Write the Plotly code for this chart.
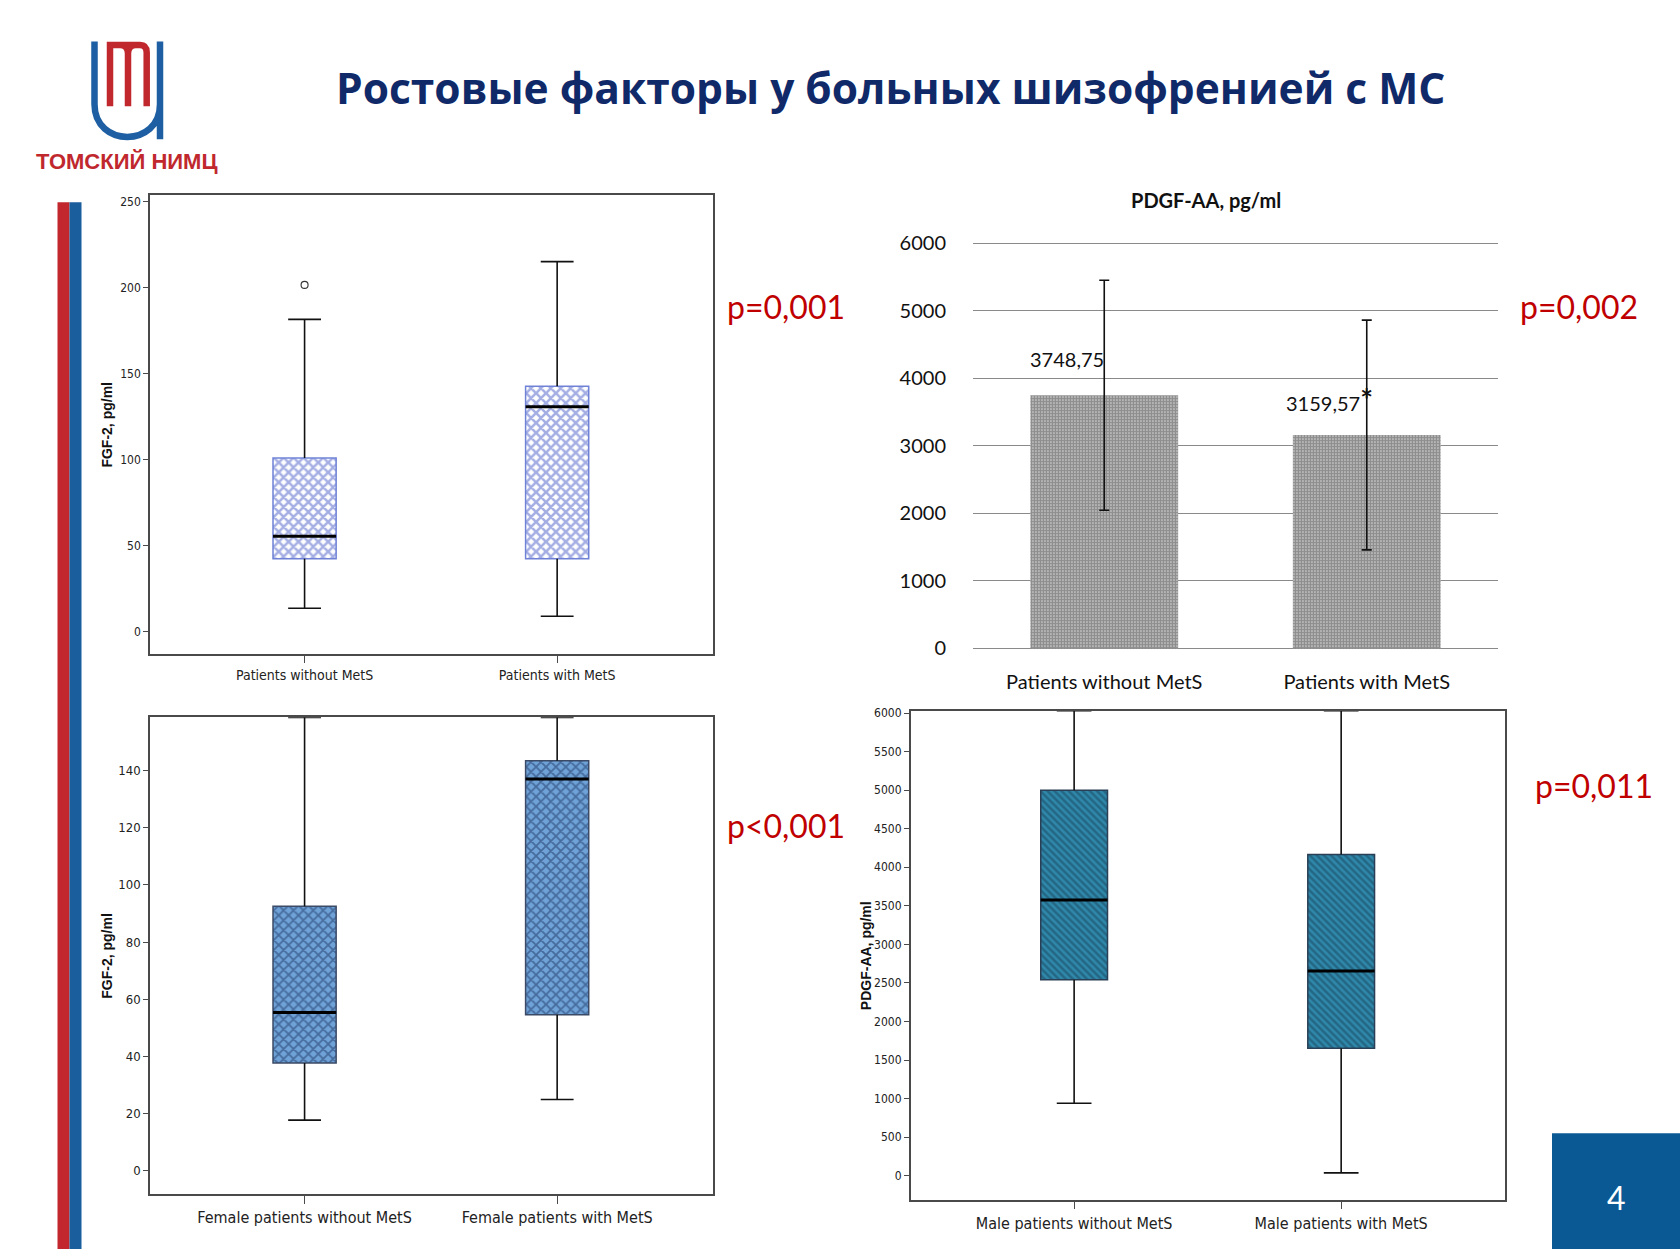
import plotly.graph_objects as go

W, H = 1680, 1260

# ---------------- data ----------------
fgf_groups = ["Patients without MetS", "Patients with MetS"]
fgf_lower = [13.7, 9.1]
fgf_q1 = [42.5, 42.5]
fgf_median = [55.5, 130.8]
fgf_q3 = [101.0, 142.7]
fgf_upper = [181.5, 215.0]
fgf_outlier_group = [0]
fgf_outlier_value = [201.5]
fgf_ticks = [0, 50, 100, 150, 200, 250]

pdgf_groups = ["Patients without MetS", "Patients with MetS"]
pdgf_mean = [3748.75, 3159.57]
pdgf_sd = [1702, 1700]
pdgf_mark = ["", "*"]
pdgf_ticks = [0, 1000, 2000, 3000, 4000, 5000, 6000]

fem_groups = ["Female patients without MetS", "Female patients with MetS"]
fem_lower = [17.7, 24.9]
fem_q1 = [37.7, 54.6]
fem_median = [55.4, 137.0]
fem_q3 = [92.5, 143.4]
fem_upper = [158.6, 158.6]
fem_ticks = [0, 20, 40, 60, 80, 100, 120, 140]

male_groups = ["Male patients without MetS", "Male patients with MetS"]
male_lower = [940, 36]
male_q1 = [2540, 1652]
male_median = [3575, 2655]
male_q3 = [5000, 4165]
male_upper = [6030, 6030]
male_ticks = [0, 500, 1000, 1500, 2000, 2500, 3000, 3500, 4000, 4500, 5000, 5500, 6000]

p_values = ["p=0,001", "p=0,002", "p<0,001", "p=0,011"]

title_text = "Ростовые факторы у больных шизофренией с МС"
logo_text = "ТОМСКИЙ НИМЦ"
page_no = "4"

# ---------------- helpers ----------------
NARROW = "Liberation Sans Narrow, Arial Narrow, DejaVu Sans Condensed, sans-serif"
ARIAL = "Liberation Sans, Arial, sans-serif"
CAL = "Lato, Carlito, Calibri, sans-serif"
TFONT = "Open Sans, Lato, sans-serif"

# vertical placement calibration of the page
Y_OFF, Y_SCALE = 9.5, 1260 / 1240


def px(x):
    return x / W


def py(y):
    return 1 - ((y - Y_OFF) * Y_SCALE) / H


def path(cmds):
    out = []
    for c in cmds:
        op, pts = c[0], c[1:]
        out.append(op + " " + " ".join(f"{px(a):.5f},{py(b):.5f}" for a, b in pts))
    return " ".join(out)


BOX_W = 0.25
CAP = 0.065

fig = go.Figure()


def add_box(xa, ya, lower, q1, med, q3, upper, bg, fg, shape, psize, solid, border):
    pos = list(range(len(q1)))
    fig.add_trace(go.Bar(
        x=pos, y=[b - a for a, b in zip(q1, q3)], base=q1, width=BOX_W,
        marker=dict(color=bg, line=dict(color=border, width=1.5),
                    pattern=dict(shape=shape, fgcolor=fg, bgcolor=bg, size=psize, solidity=solid)),
        xaxis=xa, yaxis=ya, showlegend=False, hoverinfo="skip"))
    xs, ys = [], []
    for i in pos:
        xs += [i, i, None, i, i, None, i - CAP, i + CAP, None, i - CAP, i + CAP, None]
        ys += [q3[i], upper[i], None, q1[i], lower[i], None, upper[i], upper[i], None, lower[i], lower[i], None]
    fig.add_trace(go.Scatter(x=xs, y=ys, mode="lines", line=dict(color="#111", width=1.6),
                             xaxis=xa, yaxis=ya, showlegend=False, hoverinfo="skip"))
    mx, my = [], []
    for i in pos:
        mx += [i - BOX_W / 2, i + BOX_W / 2, None]
        my += [med[i], med[i], None]
    fig.add_trace(go.Scatter(x=mx, y=my, mode="lines", line=dict(color="#000", width=3),
                             xaxis=xa, yaxis=ya, showlegend=False, hoverinfo="skip"))


# top-left: FGF-2
add_box("x", "y", fgf_lower, fgf_q1, fgf_median, fgf_q3, fgf_upper,
        "white", "#4a5ec8", "x", 7, 0.6, "#6f82d6")
fig.add_trace(go.Scatter(x=fgf_outlier_group, y=fgf_outlier_value, mode="markers",
                         marker=dict(symbol="circle-open", size=7, color="#333", line=dict(width=1.1)),
                         xaxis="x", yaxis="y", showlegend=False, hoverinfo="skip"))

# top-right: PDGF-AA bar chart
fig.add_trace(go.Bar(
    x=list(range(len(pdgf_mean))), y=pdgf_mean, width=0.563,
    marker=dict(color="white", line=dict(width=0),
                pattern=dict(shape=".", fgcolor="#1e1e1e", bgcolor="white", size=3, solidity=0.8)),
    error_y=dict(type="data", array=pdgf_sd, color="#111", thickness=1.6, width=5),
    xaxis="x2", yaxis="y2", showlegend=False, hoverinfo="skip"))

# bottom-left: female FGF-2
add_box("x3", "y3", fem_lower, fem_q1, fem_median, fem_q3, fem_upper,
        "#6fa3d8", "#1c3360", "x", 7, 0.45, "#3b4a66")

# bottom-right: male PDGF-AA
add_box("x4", "y4", male_lower, male_q1, male_median, male_q3, male_upper,
        "#2f88aa", "#1a4560", "\\", 5, 0.5, "#2a3f55")

frame = dict(showline=True, linecolor="#4a4a4a", linewidth=1.5, mirror=True,
             showgrid=False, zeroline=False)

tl_x = [150, 712.5]
tl_y = [194, 653.5]
bl_y = [717, 1194.6]
br_x = [910.7, 1505.4]
br_y = [710.4, 1200]
tr_x = [973, 1498]
tr_y0, tr_y6000 = 648, 242
tr_top = 6030
tr_top_px = tr_y0 - (tr_y0 - tr_y6000) * tr_top / 6000

fig.update_layout(
    width=W, height=H, margin=dict(l=0, r=0, t=0, b=0),
    paper_bgcolor="white", plot_bgcolor="rgba(0,0,0,0)",
    showlegend=False,
    xaxis=dict(domain=[px(tl_x[0]), px(tl_x[1])], range=[-0.612, 1.615], anchor="y",
               tickvals=list(range(len(fgf_groups))), ticktext=fgf_groups,
               ticks="outside", ticklen=7, tickcolor="#4a4a4a",
               tickfont=dict(family=NARROW, size=14, color="#222"), **frame),
    yaxis=dict(domain=[py(tl_y[1]), py(tl_y[0])], range=[-12.8, 253.6], anchor="x",
               tickvals=fgf_ticks, ticks="outside", ticklen=5, tickcolor="#4a4a4a",
               tickfont=dict(family=NARROW, size=12, color="#222"), **frame),
    xaxis2=dict(domain=[px(tr_x[0]), px(tr_x[1])], range=[-0.5, 1.5], anchor="y2",
                tickvals=list(range(len(pdgf_groups))), ticktext=pdgf_groups,
                ticks="outside", ticklen=16, tickcolor="rgba(0,0,0,0)",
                showline=False, showgrid=False, zeroline=False,
                tickfont=dict(family=CAL, size=20, color="#111")),
    yaxis2=dict(domain=[py(tr_y0), py(tr_top_px)], range=[0, tr_top], anchor="x2",
                tickvals=pdgf_ticks, ticks="outside", ticklen=22, tickcolor="rgba(0,0,0,0)",
                showline=False, showgrid=True, gridcolor="#8a8a8a", gridwidth=1.2,
                zeroline=True, zerolinecolor="#8a8a8a", zerolinewidth=1.2,
                tickfont=dict(family=CAL, size=20, color="#111")),
    xaxis3=dict(domain=[px(tl_x[0]), px(tl_x[1])], range=[-0.612, 1.615], anchor="y3",
                tickvals=list(range(len(fem_groups))), ticktext=fem_groups,
                ticks="outside", ticklen=8, tickcolor="#4a4a4a",
                tickfont=dict(family=NARROW, size=16, color="#222"), **frame),
    yaxis3=dict(domain=[py(bl_y[1]), py(bl_y[0])], range=[-8.2, 158.6], anchor="x3",
                tickvals=fem_ticks, ticks="outside", ticklen=5, tickcolor="#4a4a4a",
                tickfont=dict(family=NARROW, size=13, color="#222"), **frame),
    xaxis4=dict(domain=[px(br_x[0]), px(br_x[1])], range=[-0.612, 1.615], anchor="y4",
                tickvals=list(range(len(male_groups))), ticktext=male_groups,
                ticks="outside", ticklen=8, tickcolor="#4a4a4a",
                tickfont=dict(family=NARROW, size=16, color="#222"), **frame),
    yaxis4=dict(domain=[py(br_y[1]), py(br_y[0])], range=[-310, 6030], anchor="x4",
                tickvals=male_ticks, ticks="outside", ticklen=5, tickcolor="#4a4a4a",
                tickfont=dict(family=NARROW, size=12, color="#222"), **frame),
)


def note(x, y, text, size, color, family, angle=0):
    return dict(x=px(x), y=py(y), xref="paper", yref="paper", text=text, showarrow=False,
                xanchor="center", yanchor="middle", textangle=angle,
                font=dict(family=family, size=size, color=color))


ann = []
ann.append(note(890, 86, "<b>" + title_text + "</b>", 42.5, "#102a69", TFONT))
ann.append(note(127, 160, "<b>" + logo_text + "</b>", 22, "#c0282e", ARIAL))
ann.append(note(107, (tl_y[0] + tl_y[1]) / 2, "<b>FGF-2, pg/ml</b>", 14, "#111", ARIAL, -90))
ann.append(note(107, (bl_y[0] + bl_y[1]) / 2, "<b>FGF-2, pg/ml</b>", 14, "#111", ARIAL, -90))
ann.append(note(866, (br_y[0] + br_y[1]) / 2, "<b>PDGF-AA, pg/ml</b>", 14, "#111", ARIAL, -90))
ann.append(note(1206, 199, "<b>PDGF-AA, pg/ml</b>", 20, "#111", CAL))
for i, (m, mark) in enumerate(zip(pdgf_mean, pdgf_mark)):
    label = f"{m:.2f}".replace(".", ",")
    if mark:
        label += "<span style='font-size:30px'><b>" + mark + "</b></span>"
    ann.append(dict(x=i, y=m, xref="x2", yref="y2", text=label, showarrow=False,
                    xanchor="center", yanchor="middle",
                    xshift=-37, yshift=36, font=dict(family=CAL, size=20, color="#111")))
p_pos = [(786, 305), (1579, 305), (786, 825), (1594, 785)]
for t, (x0, y0) in zip(p_values, p_pos):
    ann.append(note(x0, y0, t, 32, "#c00000", CAL))
ann.append(note(1616, 1198, page_no, 32, "white", CAL))
fig.update_layout(annotations=ann)

shapes = []
shapes.append(dict(type="rect", xref="paper", yref="paper", x0=px(57.5), x1=px(69.5), y0=0, y1=py(201),
                   fillcolor="#c1272d", line=dict(width=0)))
shapes.append(dict(type="rect", xref="paper", yref="paper", x0=px(69.5), x1=px(81.5), y0=0, y1=py(201),
                   fillcolor="#1a5e9e", line=dict(width=0)))
shapes.append(dict(type="rect", xref="paper", yref="paper", x0=px(1552), x1=1, y0=0, y1=py(1133.5),
                   fillcolor="#0b5994", line=dict(width=0), layer="below"))
shapes.append(dict(type="path", xref="paper", yref="paper",
                   path=path([("M", (94.5, 40)), ("L", (94.5, 103)),
                              ("C", (94.5, 146.5), (160, 146.5), (160, 103)), ("L", (160, 40)),
                              ("M", (160, 100)), ("L", (160, 138))]),
                   line=dict(color="#1d5fa2", width=6.5)))
shapes.append(dict(type="path", xref="paper", yref="paper",
                   path=path([("M", (110, 105)), ("L", (110, 43.5)), ("L", (140, 43.5)),
                              ("Q", (146.7, 43.5), (146.7, 51)), ("L", (146.7, 105)),
                              ("M", (128, 105)), ("L", (128, 52)), ("Q", (128, 43.5), (120, 43.5)),
                              ("M", (128, 52)), ("Q", (128, 43.5), (136, 43.5))]),
                   line=dict(color="#c0282e", width=6.5)))
fig.update_layout(shapes=shapes)

fig.write_html("out.html", config={"displayModeBar": False},
               post_script="document.body.style.margin='0';document.body.style.overflow='hidden';")
